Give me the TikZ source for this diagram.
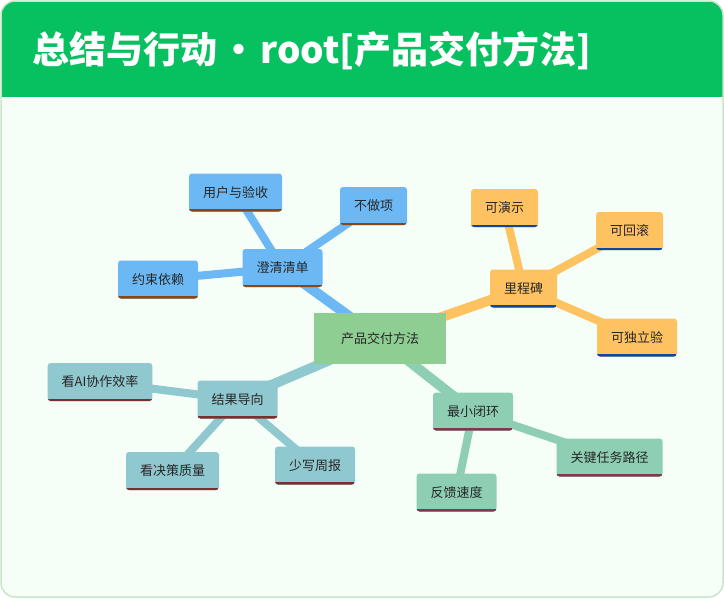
\documentclass[tikz,border=0pt]{standalone}
\usepackage{fontspec}
\setmainfont{Noto Sans CJK SC}
\usetikzlibrary{backgrounds}
\definecolor{headgreen}{HTML}{07C160}
\definecolor{pagemint}{HTML}{F6FEF8}
\definecolor{framegreen}{HTML}{C8E6C9}
\definecolor{rootgreen}{HTML}{8FCE92}
\definecolor{skyblue}{HTML}{6CB8F5}
\definecolor{mango}{HTML}{FFC261}
\definecolor{seateal}{HTML}{90C8CF}
\definecolor{mint}{HTML}{8ECFB4}
\definecolor{rust}{HTML}{8B4513}
\definecolor{navyline}{HTML}{0D47A1}
\definecolor{maroonline}{HTML}{7A2F2F}
\definecolor{plumline}{HTML}{7B3A4F}
\tikzset{
  topic/.style 2 args={fill=#1,rounded corners=3pt,minimum height=38pt,inner xsep=14pt,
    font=\fontsize{13}{15}\selectfont,text=black!85,
    path picture={\draw[#2,line width=5pt,sharp corners]
      (path picture bounding box.south west) -- (path picture bounding box.south east);}},
  link/.style={line width=#1,line cap=butt}
}
\begin{document}
\begin{tikzpicture}[x=1pt,y=-1pt]
\useasboundingbox (0,0) rectangle (724,598);
\begin{scope}[on background layer]
\fill[pagemint,rounded corners=14pt] (1,1) rectangle (723,597);
\begin{scope}
\clip[rounded corners=14pt] (1,1) rectangle (723,597);
\fill[headgreen] (0,0) rectangle (724,97);
\end{scope}
\draw[framegreen,line width=1.5pt,rounded corners=14pt] (1,1) rectangle (723,597);
\end{scope}
\node[anchor=west,text=white,font=\fontsize{37}{40}\selectfont\bfseries] (title) at (29,51) {总结与行动\hspace{3pt}·\hspace{3pt}root[产品交付方法]};
% root
\node[fill=rootgreen,minimum width=132pt,minimum height=51pt,font=\fontsize{13}{15}\selectfont,text=black!85] (root) at (380,338.5) {产品交付方法};
% branches
\node[topic={skyblue}{rust}] (clarify) at (282.5,268) {澄清清单};
\node[topic={mango}{navyline}] (milestone) at (523.5,288.5) {里程碑};
\node[topic={mint}{plumline}] (loop) at (473,411.5) {最小闭环};
\node[topic={seateal}{maroonline}] (result) at (237.5,399.5) {结果导向};
% leaves
\node[topic={skyblue}{rust}] (users) at (235.5,192.5) {用户与验收};
\node[topic={skyblue}{rust}] (skip) at (373.5,206) {不做项};
\node[topic={skyblue}{rust}] (deps) at (158,279.5) {约束依赖};
\node[topic={mango}{navyline}] (demo) at (504.5,208) {可演示};
\node[topic={mango}{navyline}] (rollback) at (629.5,231) {可回滚};
\node[topic={mango}{navyline}] (verify) at (637,337.5) {可独立验};
\node[topic={mint}{plumline}] (path) at (609.5,457.5) {关键任务路径};
\node[topic={mint}{plumline}] (feedback) at (456.5,492.5) {反馈速度};
\node[topic={seateal}{maroonline}] (aieff) at (100,382) {看AI协作效率};
\node[topic={seateal}{maroonline}] (decision) at (172.5,471) {看决策质量};
\node[topic={seateal}{maroonline}] (report) at (315,465.5) {少写周报};
\begin{scope}[on background layer]
\draw[link=10pt,skyblue] (root.center) -- (clarify.center);
\draw[link=10pt,mango] (root.center) -- (milestone.center);
\draw[link=10pt,mint] (root.center) -- (loop.center);
\draw[link=10pt,seateal] (root.center) -- (result.center);
\draw[link=8pt,skyblue] (clarify.center) -- (users.center);
\draw[link=8pt,skyblue] (clarify.center) -- (skip.center);
\draw[link=8pt,skyblue] (clarify.center) -- (deps.center);
\draw[link=8pt,mango] (milestone.center) -- (demo.center);
\draw[link=8pt,mango] (milestone.center) -- (rollback.center);
\draw[link=8pt,mango] (milestone.center) -- (verify.center);
\draw[link=8pt,mint] (loop.center) -- (path.center);
\draw[link=8pt,mint] (loop.center) -- (feedback.center);
\draw[link=8pt,seateal] (result.center) -- (aieff.center);
\draw[link=8pt,seateal] (result.center) -- (decision.center);
\draw[link=8pt,seateal] (result.center) -- (report.center);
\end{scope}
\end{tikzpicture}
\end{document}
